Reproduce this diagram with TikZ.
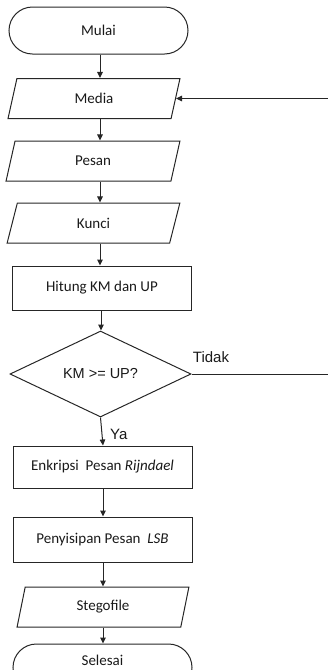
\documentclass[tikz,border=0pt]{standalone}
\usepackage{fontspec}
\setmainfont{Carlito}
\newfontfamily\arialf{Liberation Sans}
\usetikzlibrary{shapes.geometric,shapes.misc,arrows.meta}
\tikzset{
  base/.style={draw=black!85, line width=1pt, text=black!90, font=\fontsize{15}{18}\selectfont, inner sep=0pt},
  term/.style={base, rounded rectangle, minimum width=179pt, minimum height=47pt},
  io/.style={base, trapezium, trapezium left angle=78, trapezium right angle=102, trapezium stretches=true, minimum height=40pt},
  proc/.style={base, rectangle, minimum width=179pt},
  dec/.style={base, diamond, minimum width=181pt, minimum height=86pt, aspect=2.1, font=\arialf\fontsize{14.5}{17}\selectfont},
  lbl/.style={text=black!90, font=\arialf\fontsize{15}{18}\selectfont, inner sep=0pt},
  arr/.style={draw=black!85, line width=1pt, -{Triangle[length=6pt,width=5.5pt]}},
  ln/.style={draw=black!85, line width=1pt}
}
\begin{document}
\begin{tikzpicture}[x=1pt,y=-1pt]
\useasboundingbox (0,0) rectangle (328,670);
\begin{scope}
\clip (0,0) rectangle (328,670);
\node[term] (mulai) at (98.5,30.5) {Mulai};
\node[io, minimum width=172pt] (media) at (94,98.5) {Media};
\node[io, minimum width=174pt] (pesan) at (93,161) {Pesan};
\node[io, minimum width=173pt] (kunci) at (93.5,223) {Kunci};
\node[proc, minimum height=44pt] (hitung) at (102,288) {Hitung KM dan UP};
\node[dec] (dec) at (100.5,374) {KM >= UP?};
\node[proc, minimum height=42pt] (enk) at (102.5,467) {Enkripsi\ \ Pesan \textit{Rijndael}};
\node[proc, minimum height=45pt] (sisip) at (102.5,539.5) {Penyisipan Pesan\ \ \textit{LSB}};
\node[io, minimum width=172pt] (stego) at (103,607) {Stegofile};
\node[term] (selesai) at (102.5,667.5) {};
\node[base, draw=none] (selesaitxt) at (102.5,660) {Selesai};

\coordinate (ax) at (100,0);
\coordinate (bx) at (101,0);
\coordinate (cx) at (103,0);
\coordinate (rx) at (328,0);

\draw[arr] (mulai.south -| ax) -- (media.north -| ax);
\draw[arr] (media.south -| ax) -- (pesan.north -| ax);
\draw[arr] (pesan.south -| ax) -- (kunci.north -| ax);
\draw[arr] (kunci.south -| ax) -- (hitung.north -| ax);
\draw[arr] (hitung.south -| bx) -- (dec.north -| bx);
\draw[arr] (dec.south) -- (enk.north -| cx);
\draw[arr] (enk.south -| cx) -- (sisip.north -| cx);
\draw[arr] (sisip.south -| cx) -- (stego.north -| cx);
\draw[arr] (stego.south -| cx) -- (selesai.north -| cx);

\draw[ln] (dec.east) -- (dec.east -| rx);
\draw[arr] (media.east -| rx) -- (media.east);

\node[lbl] (tidak) at (211,357) {Tidak};
\node[lbl, anchor=west] (ya) at (110,434) {Ya};
\end{scope}
\end{tikzpicture}
\end{document}
